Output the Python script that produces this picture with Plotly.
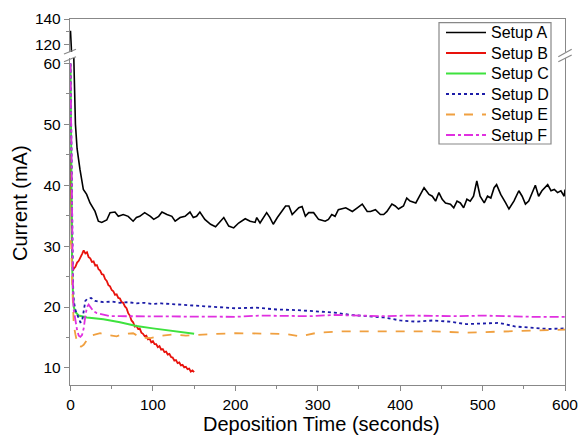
import plotly.graph_objects as go

# ---------------- data ----------------
t_A = [0, 0.5, 1, 2, 3, 4, 5, 6, 8, 10, 11.5, 15.6, 19.6, 23.7, 29.8, 33.8, 37.9, 44, 48, 54, 58, 64, 70, 76, 80, 84,
       90, 97, 101, 107, 111, 117, 123, 127, 133, 139, 145, 149, 153, 157, 163, 170, 176, 182, 186, 192, 198, 204,
       212, 218, 224, 226, 230, 238, 242, 246, 251, 261, 265, 269, 273, 277, 281, 285, 289, 295, 301, 309, 313, 317,
       321, 325, 334, 342, 348, 354, 360, 364, 370, 376, 380, 384, 390, 394, 398, 404, 408, 412, 419, 425, 429, 435,
       439, 443, 447, 451, 455, 461, 465, 469, 473, 477, 481, 485, 489, 493, 497, 502, 506, 510, 514, 517, 522, 528,
       532, 538, 544, 548, 552, 556, 560, 564, 568, 572, 579, 583, 587, 591, 595, 599, 600]
v_A = [131, 125, 118, 95, 75, 61, 55, 50, 46, 43.5, 42.6, 39.3, 38.5, 37.1, 35.7, 34.1, 33.9, 34.3, 35.5, 35.6, 34.9,
       35.2, 34.9, 34.1, 34.7, 34.9, 35.5, 34.9, 34.4, 34.9, 35.6, 35.2, 34.9, 34.1, 34.7, 34.9, 35.6, 34.7, 34.9,
       35.6, 34.4, 33.6, 33.2, 34.1, 34.7, 33.3, 33.0, 33.8, 34.5, 34.1, 33.9, 34.7, 33.8, 35.5, 34.7, 33.6, 34.7,
       36.6, 36.6, 35.2, 35.7, 36.3, 36.5, 34.9, 35.5, 35.5, 34.4, 34.1, 34.4, 35.2, 34.9, 36.0, 36.3, 35.7, 36.3,
       36.9, 35.7, 35.7, 36.0, 35.2, 35.2, 35.7, 36.9, 36.6, 36.1, 36.6, 37.9, 37.4, 37.1, 38.5, 39.6, 38.5, 38.2,
       37.4, 38.8, 37.7, 37.1, 36.9, 36.3, 37.4, 37.1, 36.3, 37.7, 37.4, 38.2, 40.7, 38.2, 37.1, 38.2, 37.9, 39.6,
       40.1, 38.5, 37.1, 36.1, 37.4, 39.1, 38.2, 36.9, 37.4, 38.8, 40.0, 38.2, 39.1, 40.1, 39.1, 39.3, 38.8, 39.1,
       38.2, 39.3]

t_B = [0, 1, 2, 3, 4, 6, 8, 10, 12, 14, 16, 18, 20, 22, 24, 26, 28, 30, 32, 34, 36, 38, 40, 42, 44, 46, 48, 50, 52,
       54, 56, 58, 60, 62, 64, 66, 68, 70, 72, 74, 76, 78, 80, 82, 84, 86, 88, 90, 92, 94, 96, 98, 100, 102, 104, 106,
       108, 110, 112, 114, 116, 118, 120, 122, 124, 126, 128, 130, 132, 134, 136, 138, 140, 142, 144, 146, 148, 150]
v_B = [45, 33, 27.5, 26.0, 26.3, 26.6, 27.3, 27.6, 28.3, 28.7, 29.3, 28.8, 29.0, 28.2, 28.0, 27.4, 27.5, 26.8, 26.9,
       26.2, 26.0, 25.4, 25.3, 24.6, 24.3, 23.6, 23.4, 22.8, 22.6, 22.0, 22.1, 21.5, 21.4, 20.8, 20.7, 20.1, 19.8,
       19.0, 18.6, 17.8, 17.5, 16.8, 16.9, 16.4, 16.5, 15.8, 15.6, 15.2, 15.3, 14.7, 14.8, 14.2, 14.4, 13.9, 13.9,
       13.4, 13.6, 13.0, 13.1, 12.6, 12.7, 12.2, 12.3, 11.8, 11.7, 11.2, 11.3, 10.8, 10.9, 10.4, 10.5, 10.1, 10.2,
       9.8, 9.9, 9.4, 9.6, 9.3]

t_C = [0, 1, 2, 3, 4, 6, 8, 10, 20, 40, 60, 80, 100, 120, 140, 150]
v_C = [60, 40, 27, 22, 20, 19.2, 18.8, 18.6, 18.3, 18.0, 17.5, 16.9, 16.5, 16.1, 15.8, 15.6]

t_D = [0, 1, 2, 3, 4, 6, 8, 10, 12, 14, 16, 18, 20, 25, 30, 40, 50, 60, 70, 80, 90, 100, 110, 120, 130, 140, 150,
       175, 200, 225, 250, 275, 300, 320, 340, 360, 380, 400, 420, 440, 460, 480, 500, 520, 540, 560, 580, 600]
v_D = [60, 45, 32, 24, 21, 19.5, 18.8, 18.0, 17.5, 17.6, 19.5, 21.0, 21.3, 21.5, 21.0, 20.8, 20.9, 20.7, 20.8, 20.6,
       20.7, 20.5, 20.6, 20.5, 20.4, 20.3, 20.2, 20.0, 19.8, 19.9, 19.6, 19.5, 19.3, 19.1, 18.7, 18.5, 18.3, 17.8,
       17.6, 17.8, 17.6, 17.2, 17.3, 17.4, 16.8, 16.6, 16.4, 16.5]

t_E = [0, 1, 2, 3, 4, 6, 8, 10, 13, 16, 20, 25, 30, 36, 45, 56, 65, 76, 85, 97, 110, 125, 140, 150, 175, 200, 230,
       260, 279, 300, 330, 360, 400, 440, 480, 520, 560, 600]
v_E = [31, 30, 24, 19, 17, 15.5, 14.2, 13.6, 13.5, 13.8, 14.6, 15.3, 15.5, 15.7, 15.4, 15.2, 15.6, 15.7, 15.0, 14.9,
       15.3, 15.5, 15.3, 15.4, 15.6, 15.7, 15.7, 15.6, 15.2, 15.8, 16.0, 16.0, 15.9, 16.0, 15.8, 16.0, 16.1, 16.3]

t_F = [0, 1, 2, 3, 4, 6, 8, 10, 12, 14, 16, 18, 20, 22, 25, 28, 32, 40, 48, 60, 76, 90, 117, 140, 157, 180, 200, 230,
       260, 290, 320, 350, 380, 410, 440, 470, 500, 530, 560, 600]
v_F = [60, 45, 30, 22, 19.5, 17.5, 16.2, 15.3, 15.1, 15.4, 16.5, 18.5, 20.0, 20.4, 19.8, 19.3, 19.0, 18.7, 18.5, 18.5,
       18.5, 18.4, 18.5, 18.4, 18.4, 18.5, 18.4, 18.6, 18.5, 18.5, 18.7, 18.6, 18.5, 18.6, 18.5, 18.5, 18.6, 18.5,
       18.4, 18.4]

names = ["Setup A", "Setup B", "Setup C", "Setup D", "Setup E", "Setup F"]
series = [(t_A, v_A), (t_B, v_B), (t_C, v_C), (t_D, v_D), (t_E, v_E), (t_F, v_F)]
for tt, vv in series:
    assert len(tt) == len(vv), (len(tt), len(vv))

x_ticks = [0, 100, 200, 300, 400, 500, 600]
y_low_ticks = [10, 20, 30, 40, 50, 60]
y_high_ticks = [120, 140]

# ---------------- styles ----------------
colors = ["#000000", "#e8120c", "#3ee23e", "#1c1ca8", "#f0a040", "#e030e0"]
dashes = ["solid", "solid", "solid", "dot", "dash", "dashdot"]
widths = [1.6, 1.8, 2.0, 1.8, 1.8, 1.8]

fig = go.Figure()
for (tt, vv), n, c, d, w in zip(series, names, colors, dashes, widths):
    fig.add_trace(go.Scatter(x=tt, y=vv, name=n, mode="lines", showlegend=False,
                             line=dict(color=c, dash=d, width=w), xaxis="x", yaxis="y"))
# Setup A also in the upper (broken) panel
fig.add_trace(go.Scatter(x=t_A, y=v_A, mode="lines", showlegend=False, name=names[0],
                         line=dict(color=colors[0], width=widths[0]), xaxis="x2", yaxis="y2"))

axcol = "#888888"
font = "Liberation Sans, Arial, sans-serif"
L, R, T, B = 70, 15, 19, 53
W, H = 580, 438
pw, ph = W - L - R, H - T - B

def px(xp):
    return (xp - L) / pw

def py(yp):
    return (H - B - yp) / ph

lo_top = py(58)
hi_bot = py(52)

fig.update_layout(
    width=W, height=H, margin=dict(l=L, r=R, t=T, b=B, autoexpand=False),
    paper_bgcolor="white", plot_bgcolor="white",
    font=dict(family=font, size=15, color="black"),
    xaxis=dict(domain=[0, 1], anchor="y", range=[-0.6, 600], tickvals=x_ticks, automargin=False,
               showline=True, linecolor=axcol, linewidth=1.3, mirror=False,
               ticks="outside", ticklen=5, tickcolor=axcol, tickwidth=1.3,
               minor=dict(dtick=50, tick0=0, ticks="outside", ticklen=3, tickcolor=axcol),
               showgrid=False, zeroline=False, tickfont=dict(size=15.5)),
    xaxis2=dict(domain=[0, 1], anchor="y2", matches="x", side="top", showline=True, automargin=False,
                linecolor=axcol, linewidth=1.3, showticklabels=False, ticks="",
                showgrid=False, zeroline=False),
    yaxis=dict(domain=[0, lo_top], anchor="x", range=[7.2, 60.9], tickvals=y_low_ticks, automargin=False,
               showline=True, linecolor=axcol, linewidth=1.3, mirror=True,
               ticks="outside", ticklen=5, tickcolor=axcol, tickwidth=1.3,
               minor=dict(dtick=5, tick0=5, ticks="outside", ticklen=3, tickcolor=axcol),
               showgrid=False, zeroline=False, tickfont=dict(size=15.5)),
    yaxis2=dict(domain=[hi_bot, 1], anchor="x2", range=[114.6, 140], tickvals=y_high_ticks, automargin=False,
                showline=True, linecolor=axcol, linewidth=1.3, mirror=True,
                ticks="outside", ticklen=5, tickcolor=axcol, tickwidth=1.3,
                minor=dict(tickvals=[130], ticks="outside", ticklen=3, tickcolor=axcol),
                showgrid=False, zeroline=False, tickfont=dict(size=15.5)),
    showlegend=False,
)

fig.add_annotation(text="Current (mA)", xref="paper", yref="paper", x=px(20), y=py(203),
                   textangle=-90, showarrow=False, font=dict(size=20), xanchor="center", yanchor="middle")
fig.add_annotation(text="Deposition Time (seconds)", xref="paper", yref="paper", x=px(321), y=py(424),
                   showarrow=False, font=dict(size=20), xanchor="center", yanchor="middle")

# break marks on the y axis
for (x0, y0, x1, y1) in [(64, 54, 76, 49.3), (64, 61.7, 76, 56.7),
                         (558.3, 56.7, 571.7, 49.3), (558.3, 61.7, 571.7, 55)]:
    fig.add_shape(type="line", xref="paper", yref="paper", x0=px(x0), y0=py(y0), x1=px(x1), y1=py(y1),
                  line=dict(color=axcol, width=1.2))

# legend box (drawn to match the compact original legend)
fig.add_shape(type="rect", xref="paper", yref="paper", x0=px(439), x1=px(551), y0=py(144), y1=py(22.7),
              line=dict(color=axcol, width=1.2), fillcolor="white", layer="above")
for i, (n, c, d, w) in enumerate(zip(names, colors, dashes, widths)):
    yc = 32.5 + i * 20.5
    fig.add_shape(type="line", xref="paper", yref="paper", x0=px(446), x1=px(486), y0=py(yc), y1=py(yc),
                  line=dict(color=c, dash=d, width=w), layer="above")
    fig.add_annotation(text=n, xref="paper", yref="paper", x=px(489), y=py(yc), xanchor="left",
                       yanchor="middle", showarrow=False, font=dict(size=16))

fig.write_html("out.html")
